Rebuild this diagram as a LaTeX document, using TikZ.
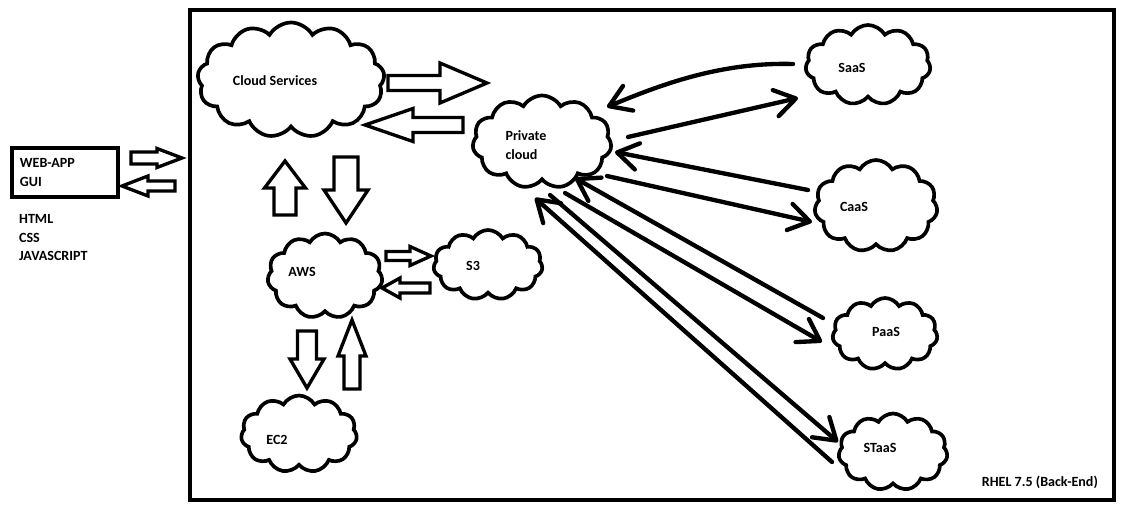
\documentclass[tikz,border=0pt]{standalone}
\usepackage{fontspec}
\setmainfont{Carlito}
\usetikzlibrary{shapes.symbols,arrows.meta}

% hollow block arrow: tail, angle, length, half shaft, half head, head length
\newcommand{\blockarrow}[6]{%
  \draw[blockarr,shift={(#1)},rotate=#2]
    (0,#4) -- ({#3-#6},#4) -- ({#3-#6},#5) -- (#3,0)
    -- ({#3-#6},-#5) -- ({#3-#6},-#4) -- (0,-#4) -- cycle;}

\begin{document}
\begin{tikzpicture}[
  x=0.03cm, y=-0.03cm,
  font=\bfseries\fontsize{12}{16}\selectfont,
  cloudnode/.style={draw,cloud,cloud puffs=11,cloud puff arc=120,line width=0.11cm,inner sep=0pt},
  blockarr/.style={draw,line width=0.1cm,line join=miter},
  linearr/.style={line width=0.13cm,line cap=round,-{Straight Barb[length=0.62cm,width=0.8cm,round]}}
]
\useasboundingbox (0,0) rectangle (1131,511);

% back-end frame
\draw[line width=0.12cm] (190,10) rectangle (1114,500);
\node[anchor=east] (rhel) at (1102,482) {RHEL 7.5 (Back-End)};

% front-end
\node[draw,line width=0.11cm,minimum width=3.18cm,minimum height=1.47cm,
  text width=2.7cm,align=left] (web) at (65,172.5) {WEB-APP\\GUI};
\node[anchor=north west,align=left] (tech) at (15,210) {HTML\\CSS\\JAVASCRIPT};

% clouds
\node[cloudnode,cloud puffs=13,minimum width=5.61cm,minimum height=3.45cm,
  label={[shift={(-16,1)}]center:Cloud Services}] (cs) at (291,80) {};
\node[cloudnode,minimum width=4.17cm,minimum height=2.79cm,
  label={[align=left,shift={(-16,3)}]center:Private\\cloud}] (pc) at (542,142) {};
\node[cloudnode,minimum width=3.45cm,minimum height=2.55cm,
  label={[shift={(-23,-4)}]center:AWS}] (aws) at (325,276) {};
\node[cloudnode,minimum width=3.27cm,minimum height=2.1cm,
  label={[shift={(-15,1)}]center:S3}] (s3) at (488,265) {};
\node[cloudnode,minimum width=3.48cm,minimum height=2.31cm,
  label={[shift={(-22,6)}]center:EC2}] (ec2) at (299,434) {};
\node[cloudnode,minimum width=3.75cm,minimum height=2.4cm,
  label={[shift={(-16,3)}]center:SaaS}] (saas) at (868,65) {};
\node[cloudnode,minimum width=3.69cm,minimum height=2.76cm,
  label={[shift={(-22,1)}]center:CaaS}] (caas) at (876,206) {};
\node[cloudnode,minimum width=3.15cm,minimum height=2.16cm,
  label={[shift={(1,-2)}]center:PaaS}] (paas) at (885,334) {};
\node[cloudnode,minimum width=3.27cm,minimum height=2.31cm,
  label={[shift={(-13,-4)}]center:STaaS}] (staas) at (893,452) {};

% block arrow tails
\coordinate (web-out) at (131,158);
\coordinate (web-in) at (175,186);
\coordinate (cs-out) at (388,83);
\coordinate (pc-out) at (463,125);
\coordinate (aws-up) at (285,215);
\coordinate (cs-down) at (346,157);
\coordinate (aws-out) at (386,256);
\coordinate (s3-out) at (430,288);
\coordinate (aws-down) at (307,331);
\coordinate (ec2-up) at (352,389);

\blockarrow{web-out}{0}{51}{6}{9.5}{25}
\blockarrow{web-in}{180}{53}{5}{10}{26}
\blockarrow{cs-out}{0}{99}{7.5}{20}{47}
\blockarrow{pc-out}{180}{98}{7.5}{16.5}{48}
\blockarrow{aws-up}{90}{54}{11}{20.5}{27}
\blockarrow{cs-down}{-90}{66}{12}{22}{33}
\blockarrow{aws-out}{0}{45}{4.5}{9.5}{21}
\blockarrow{s3-out}{180}{48}{5}{10}{18}
\blockarrow{aws-down}{-90}{57}{9.5}{17}{29}
\blockarrow{ec2-up}{90}{69}{8}{14}{36}

% line arrow ends
\coordinate (saas-a) at (793,64);
\coordinate (saas-b) at (798,98);
\coordinate (caas-a) at (808,190);
\coordinate (caas-b) at (812,222);
\coordinate (paas-a) at (823,318);
\coordinate (paas-b) at (822,342);
\coordinate (staas-a) at (832,462);
\coordinate (staas-b) at (838,442);
\coordinate (pc-a) at (607,107);
\coordinate (pc-b) at (628,137);
\coordinate (pc-c) at (615,152);
\coordinate (pc-d) at (607,176);
\coordinate (pc-e) at (575,178);
\coordinate (pc-f) at (565,193);
\coordinate (pc-g) at (535,198);
\coordinate (pc-h) at (550,195);

\draw[linearr] (saas-a) .. controls (720,62) and (660,85) .. (pc-a);
\draw[linearr] (pc-b) -- (saas-b);
\draw[linearr] (caas-a) -- (pc-c);
\draw[linearr] (pc-d) -- (caas-b);
\draw[linearr] (paas-a) -- (pc-e);
\draw[linearr] (pc-f) -- (paas-b);
\draw[linearr] (staas-a) -- (pc-g);
\draw[linearr] (pc-h) -- (staas-b);
\end{tikzpicture}
\end{document}
